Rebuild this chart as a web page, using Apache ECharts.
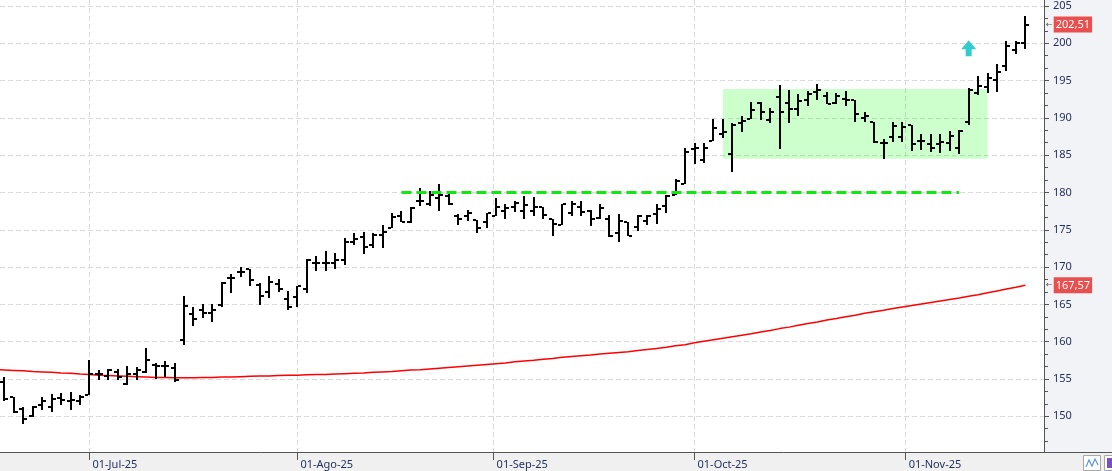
<!DOCTYPE html>
<html>
<head>
<meta charset="utf-8">
<title>Barras diarias</title>
<script src="https://cdn.jsdelivr.net/npm/echarts@6.0.0/dist/echarts.min.js"></script>
<style>
  html, body { margin: 0; padding: 0; background: #f2f3f6; }
  #chart { width: 1112px; height: 471px; }
</style>
</head>
<body>
<div id="chart"></div>
<script>
// sesiones (16-jun solo lleva la media, la barra queda fuera del grafico)
const junDays = [16, 17, 18, 20, 23, 24, 25, 26, 27, 30]
const julDays = [1, 2, 3, 7, 8, 9, 10, 11, 14, 15, 16, 17, 18, 21, 22, 23, 24, 25, 28, 29, 30, 31]
const agoDays = [1, 4, 5, 6, 7, 8, 11, 12, 13, 14, 15, 18, 19, 20, 21, 22, 25, 26, 27, 28, 29]
const sepDays = [2, 3, 4, 5, 8, 9, 10, 11, 12, 15, 16, 17, 18, 19, 22, 23, 24, 25, 26, 29, 30]
const octDays = [1, 2, 3, 6, 7, 8, 9, 10, 13, 14, 15, 16, 17, 20, 21, 22, 23, 24, 27, 28, 29, 30, 31]
const novDays = [3, 4, 5, 6, 7, 10, 11, 12, 13, 14, 17, 18, 19]

const opens = [null,
  154.6, 152.6, 151.0, 150.0, 151.5, 151.25, 152.45, 152.1, 152.1, 152.9,
  155.6, 155.4, 155.9, 154.3, 155.6, 155.9, 156.9, 156.8, 156.5, 160.2,
  163.7, 164.2, 163.9, 164.9, 168.5, 169.35, 169.7, 167.6, 166.6, 167.7,
  165.7, 166.0, 167.0, 170.5, 170.6, 170.6, 170.9, 173.4, 174.0, 172.9,
  174.25, 175.3, 176.8, 176.0, 178.8, 178.5, 179.2, 179.5, 176.9, 176.8,
  176.3, 176.0, 176.9, 177.5, 178.0, 177.5, 177.5, 178.0, 176.45, 175.7,
  177.3, 178.1, 177.5, 176.6, 176.5, 174.5, 176.0, 175.4, 176.2, 177.1,
  178.2, 179.7, 181.2, 185.85, 184.35, 186.9, 187.9, 185.1, 189.3, 189.9,
  191.95, 189.7, 192.75, 192.0, 191.2, 192.4, 193.45, 192.9, 191.95, 192.5,
  192.35, 190.0, 189.4, 186.6, 187.5, 187.5, 189.05, 186.9, 186.5, 186.5,
  186.6, 186.0, 189.4, 193.3, 194.2, 195.1, 197.0, 199.1, 200.0]
const highs = [null,
  155.2, 152.6, 151.3, 151.4, 152.6, 153.0, 153.1, 153.3, 152.8, 157.6,
  156.2, 156.4, 156.3, 156.7, 156.6, 159.1, 157.1, 157.4, 157.1, 166.1,
  164.65, 165.0, 165.0, 168.0, 169.1, 170.0, 169.75, 167.8, 168.75, 168.4,
  166.8, 167.5, 171.1, 171.5, 172.2, 171.9, 173.9, 174.5, 174.7, 174.5,
  175.6, 177.25, 177.5, 178.1, 180.6, 180.25, 181.1, 180.15, 177.1, 177.6,
  176.3, 177.3, 179.2, 178.5, 178.8, 179.5, 179.35, 178.0, 176.5, 178.45,
  178.8, 178.9, 177.6, 178.45, 177.0, 177.1, 176.1, 177.0, 177.0, 178.4,
  179.7, 181.8, 185.9, 186.6, 186.6, 189.8, 189.9, 189.3, 190.3, 192.1,
  192.1, 191.3, 194.4, 193.7, 193.2, 193.55, 194.5, 193.5, 193.4, 193.6,
  192.45, 190.8, 189.5, 187.2, 189.4, 189.4, 189.05, 187.8, 187.8, 187.8,
  188.3, 188.4, 194.0, 195.6, 196.0, 197.2, 200.3, 200.3, 203.6]
const lows = [null,
  152.0, 150.5, 148.9, 149.9, 150.9, 150.6, 151.5, 150.9, 151.5, 152.9,
  154.9, 154.8, 154.8, 154.2, 154.9, 155.8, 155.0, 155.3, 154.6, 159.6,
  162.1, 163.2, 162.7, 164.7, 166.5, 168.7, 167.4, 164.9, 165.8, 166.7,
  164.2, 164.7, 166.5, 169.5, 169.5, 169.8, 170.3, 173.0, 171.7, 172.6,
  172.6, 175.3, 176.0, 175.9, 178.15, 178.15, 177.5, 178.3, 175.7, 176.2,
  174.5, 175.3, 176.8, 176.5, 177.4, 176.45, 176.8, 176.45, 174.2, 175.6,
  176.8, 176.9, 175.55, 176.5, 174.0, 173.3, 174.1, 174.8, 175.6, 175.8,
  177.2, 179.7, 181.1, 183.85, 184.0, 186.9, 187.35, 182.8, 188.15, 189.8,
  189.75, 189.25, 185.8, 189.3, 190.3, 191.6, 192.35, 191.85, 191.85, 191.55,
  189.4, 189.5, 186.6, 184.5, 186.8, 186.7, 185.5, 185.7, 185.4, 185.3,
  185.6, 185.1, 189.05, 193.1, 193.4, 193.5, 196.3, 198.5, 199.2]
const closes = [null,
  152.3, 150.6, 149.6, 151.25, 152.1, 152.3, 152.2, 152.2, 152.6, 155.7,
  155.7, 156.2, 155.3, 155.6, 156.25, 157.5, 156.8, 156.7, 154.8, 164.8,
  163.0, 163.8, 164.3, 167.9, 168.6, 169.4, 168.3, 166.1, 168.05, 167.1,
  164.6, 167.4, 171.0, 170.6, 170.6, 171.0, 173.4, 173.8, 172.7, 174.25,
  174.7, 176.7, 176.1, 177.9, 178.8, 179.6, 179.6, 178.45, 176.4, 177.3,
  175.2, 177.2, 178.0, 177.9, 178.6, 178.3, 178.1, 177.0, 175.8, 178.4,
  178.45, 177.4, 176.5, 177.9, 174.1, 176.2, 174.1, 176.8, 176.8, 177.8,
  179.5, 181.6, 185.4, 185.9, 185.9, 188.6, 188.15, 189.0, 189.6, 191.0,
  190.75, 190.85, 190.85, 191.2, 192.2, 193.2, 193.7, 191.85, 192.9, 192.45,
  190.5, 190.3, 186.8, 186.6, 188.9, 188.8, 186.5, 186.9, 185.9, 186.8,
  187.6, 188.3, 193.8, 194.3, 195.3, 196.1, 199.6, 200.1, 202.51]
// media movil (linea roja)
const ma200 = [156.25,
  156.2, 156.15, 156.1, 156.0, 155.95, 155.9, 155.8, 155.75, 155.65, 155.6,
  155.5, 155.45, 155.4, 155.35, 155.3, 155.25, 155.2, 155.2, 155.15, 155.15,
  155.15, 155.2, 155.2, 155.25, 155.25, 155.3, 155.35, 155.4, 155.4, 155.45,
  155.5, 155.5, 155.55, 155.6, 155.6, 155.65, 155.7, 155.75, 155.8, 155.9,
  155.95, 156.0, 156.1, 156.2, 156.25, 156.35, 156.45, 156.55, 156.65, 156.75,
  156.85, 156.95, 157.05, 157.15, 157.3, 157.4, 157.5, 157.65, 157.75, 157.9,
  158.0, 158.1, 158.2, 158.35, 158.45, 158.55, 158.65, 158.8, 158.95, 159.1,
  159.25, 159.45, 159.6, 159.85, 160.05, 160.25, 160.45, 160.65, 160.85, 161.05,
  161.3, 161.5, 161.75, 161.95, 162.2, 162.45, 162.65, 162.9, 163.1, 163.35,
  163.55, 163.8, 164.0, 164.2, 164.45, 164.65, 164.85, 165.05, 165.25, 165.45,
  165.65, 165.85, 166.1, 166.3, 166.55, 166.8, 167.05, 167.3, 167.57]

const monthStarts = ['2025-07-01', '2025-08-01', '2025-09-01', '2025-10-01', '2025-11-01']
const monthLabels = ['01-Jul-25', '01-Ago-25', '01-Sep-25', '01-Oct-25', '01-Nov-25']
const priceTicks = [150, 155, 160, 165, 170, 175, 180, 185, 190, 195, 200, 205]

// dibujos del analista
const boxTop = 193.87
const boxBottom = 184.53
const supportLevel = 180
const lastPrice = 202.51
const lastMa = 167.57

function monthDates (ym, days) {
  return days.map(d => ym + '-' + String(d).padStart(2, '0'))
}
const dates = [].concat(
  monthDates('2025-06', junDays), monthDates('2025-07', julDays), monthDates('2025-08', agoDays),
  monthDates('2025-09', sepDays), monthDates('2025-10', octDays), monthDates('2025-11', novDays)
)
const idxOf = day => dates.indexOf(day)

// posicion de un dia natural entre dos sesiones
function datePos (day) {
  const t = Date.parse(day)
  for (let i = 0; i < dates.length - 1; i++) {
    const a = Date.parse(dates[i])
    const b = Date.parse(dates[i + 1])
    if (t >= a && t < b) return i + (t - a) / (b - a)
  }
  return dates.length - 1
}
const monthPos = monthStarts.map(datePos)

// subdivisiones del eje de precios (tercios)
const minorTicks = []
priceTicks.forEach(p => minorTicks.push(p - 5 / 3, p - 10 / 3))

const ohlcData = []
dates.forEach((d, i) => {
  if (opens[i] != null) ohlcData.push([i, opens[i], highs[i], lows[i], closes[i]])
})
const maData = dates.map((d, i) => [i, ma200[i]])

const labelColor = '#1f2d5a'
const font = 'Noto Sans'

function renderOhlc (params, api) {
  const i = api.value(0)
  const hi = api.coord([i, api.value(2)])
  const lo = api.coord([i, api.value(3)])
  const op = api.coord([i, api.value(1)])
  const cl = api.coord([i, api.value(4)])
  const x = Math.round(hi[0])
  const yTop = Math.round(hi[1])
  const yBot = Math.round(lo[1])
  return {
    type: 'group',
    children: [
      { type: 'rect', shape: { x: x - 1, y: yTop, width: 2, height: Math.max(1, yBot - yTop) }, style: { fill: '#000' } },
      { type: 'rect', shape: { x: x - 4, y: Math.round(op[1]) - 1, width: 3, height: 2 }, style: { fill: '#000' } },
      { type: 'rect', shape: { x: x + 1, y: Math.round(cl[1]) - 1, width: 3, height: 2 }, style: { fill: '#000' } }
    ]
  }
}

function priceTag (value) {
  return {
    yAxis: value,
    lineStyle: { color: 'transparent', width: 0 },
    label: {
      show: true,
      position: 'end',
      distance: 2,
      formatter: '{a|←}{b|' + value.toFixed(2).replace('.', ',') + '}',
      rich: {
        a: { color: '#555', fontSize: 8, fontFamily: 'DejaVu Sans', padding: [0, 1, 0, 0] },
        b: { color: '#fff', backgroundColor: '#e8504f', fontSize: 11, fontFamily: font, lineHeight: 13, padding: [3, 2, 2, 2] }
      }
    }
  }
}

const chart = echarts.init(document.getElementById('chart'))

const option = {
  backgroundColor: '#f2f3f6',
  animation: false,
  grid: { left: 0, top: 0, right: 68, bottom: 19, show: true, backgroundColor: '#fff', borderWidth: 0 },
  xAxis: {
    type: 'value',
    min: 0.535,
    max: 110.97,
    axisLine: { lineStyle: { color: '#555', width: 1 } },
    axisTick: { customValues: monthPos, length: 8, lineStyle: { color: '#555' } },
    axisLabel: {
      customValues: monthPos,
      formatter: v => {
        const k = monthPos.findIndex(p => Math.abs(p - v) < 0.001)
        return k >= 0 ? monthLabels[k] : ''
      },
      align: 'left',
      margin: 7,
      padding: [0, 0, 0, 3],
      color: labelColor,
      fontSize: 11,
      fontFamily: font
    },
    splitLine: { show: true, lineStyle: { color: '#dadada', type: [5, 3] } }
  },
  yAxis: [
    {
      type: 'value',
      position: 'right',
      min: 145.21,
      max: 205.8,
      axisLine: { show: true, lineStyle: { color: '#555' } },
      axisTick: { show: true, customValues: priceTicks, length: 5, lineStyle: { color: '#555' } },
      axisLabel: { customValues: priceTicks, margin: 9, color: labelColor, fontSize: 11, fontFamily: font },
      splitLine: { show: true, lineStyle: { color: '#dadada', type: [5, 3] } }
    },
    {
      type: 'value',
      position: 'right',
      min: 145.21,
      max: 205.8,
      axisLine: { show: false },
      axisTick: { show: true, customValues: minorTicks, length: 4, lineStyle: { color: '#555' } },
      axisLabel: { show: false },
      splitLine: { show: false }
    }
  ],
  graphic: [
    { type: 'rect', z: -10, silent: true, shape: { x: 0, y: 452, width: 1112, height: 19 }, style: { fill: '#f0f0f0' } },
    { type: 'line', z: 10, silent: true, shape: { x1: 1044, y1: 452.5, x2: 1112, y2: 452.5 }, style: { stroke: '#555', lineWidth: 1 } },
    // botones de la esquina
    { type: 'rect', z: 10, silent: true, shape: { x: 1083.5, y: 455.5, width: 17, height: 15 }, style: { fill: '#fff', stroke: '#a8a8a8' } },
    { type: 'polyline', z: 11, silent: true, shape: { points: [[1086, 467], [1089, 460], [1092, 466], [1095, 459], [1098, 465]] }, style: { stroke: '#5b9bd5', lineWidth: 1.2, fill: null } },
    { type: 'rect', z: 10, silent: true, shape: { x: 1104.5, y: 455.5, width: 10, height: 15 }, style: { fill: '#fff', stroke: '#a8a8a8' } },
    { type: 'rect', z: 11, silent: true, shape: { x: 1107, y: 458, width: 6, height: 10 }, style: { fill: '#7a4fc4' } }
  ],
  series: [
    {
      type: 'line',
      name: 'MA',
      z: 2,
      data: maData,
      symbol: 'none',
      lineStyle: { color: '#ff0000', width: 1.5 },
      silent: true,
      markArea: {
        silent: true,
        itemStyle: { color: 'rgba(0, 255, 0, 0.2)' },
        data: [[{ xAxis: idxOf('2025-10-06'), yAxis: boxTop }, { xAxis: idxOf('2025-11-13'), yAxis: boxBottom }]]
      },
      markLine: {
        silent: true,
        symbol: ['none', 'none'],
        label: { show: false },
        data: [
          [
            { coord: [idxOf('2025-08-18'), supportLevel], lineStyle: { color: '#10e810', width: 3, type: [10, 5] } },
            { coord: [idxOf('2025-11-10'), supportLevel] }
          ],
          priceTag(lastMa)
        ]
      }
    },
    {
      type: 'custom',
      name: 'OHLC',
      z: 3,
      clip: true,
      renderItem: renderOhlc,
      encode: { x: 0, y: [1, 2, 3, 4] },
      data: ohlcData,
      markPoint: {
        silent: true,
        symbol: 'path://M7.5,0 L15,9 L10.5,9 L10.5,16 L4.5,16 L4.5,9 L0,9 Z',
        symbolSize: [15, 16],
        itemStyle: { color: '#33cccc' },
        label: { show: false },
        data: [{ coord: [idxOf('2025-11-11'), 199.34] }]
      },
      markLine: {
        silent: true,
        symbol: ['none', 'none'],
        data: [priceTag(lastPrice)]
      }
    }
  ]
}

chart.setOption(option)
</script>
</body>
</html>
